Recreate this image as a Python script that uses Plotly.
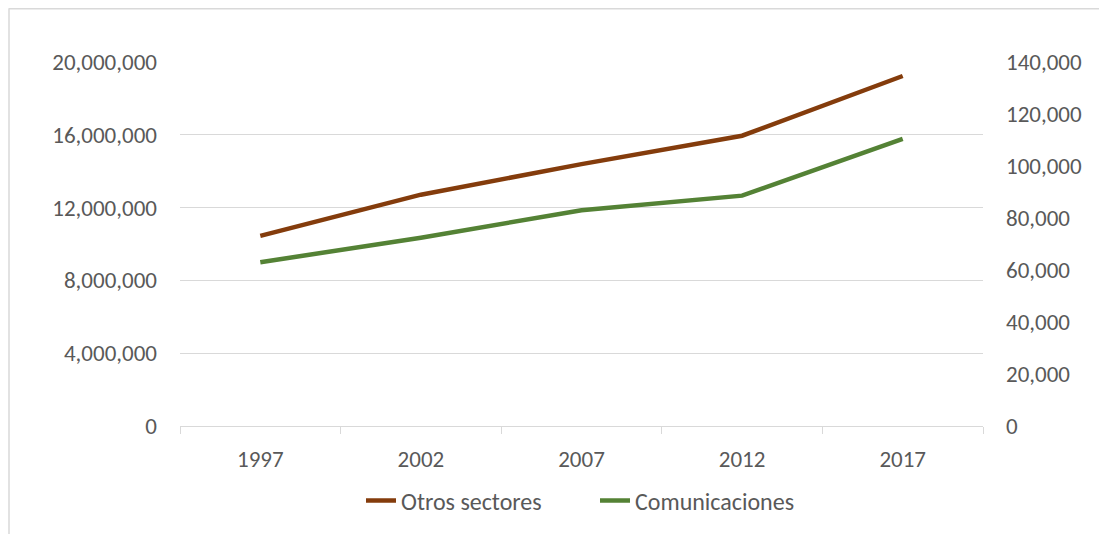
import plotly.graph_objects as go

years = ["1997", "2002", "2007", "2012", "2017"]
otros_sectores = [10450000, 12710000, 14390000, 15950000, 19230000]
comunicaciones = [63000, 72400, 83000, 88600, 110400]

left_ticks = [0, 4000000, 8000000, 12000000, 16000000, 20000000]
right_ticks = [0, 20000, 40000, 60000, 80000, 100000, 120000, 140000]

FONT = "Calibri, Carlito, Liberation Sans, Arial, sans-serif"
TXT = "#595959"
GRID = "#d9d9d9"
FS = 23

fig = go.Figure()
fig.add_trace(go.Scatter(x=years, y=otros_sectores, name="Otros sectores",
                         mode="lines", line=dict(color="#843C0C", width=4.5),
                         yaxis="y"))
fig.add_trace(go.Scatter(x=years, y=comunicaciones, name="Comunicaciones",
                         mode="lines", line=dict(color="#548235", width=4.5),
                         yaxis="y2"))

OFF = 8  # page body margin
W, H = 1107 - OFF, 534 - OFF
L, R, T, B = 180 - OFF, 983 - OFF, 62 - OFF, 427 - OFF
pw, ph = R - L, B - T

def px(x):
    return (x - OFF - L) / pw

def py(y):
    return (B - (y - OFF)) / ph

fig.update_layout(
    width=W, height=H,
    margin=dict(l=L, r=W - R, t=T, b=H - B, pad=0),
    paper_bgcolor="white", plot_bgcolor="white",
    font=dict(family=FONT, size=FS, color=TXT),
    showlegend=True,
    legend=dict(orientation="h", x=px(361), xanchor="left",
                y=py(501), yanchor="middle", font=dict(size=FS + 1, color=TXT),
                entrywidth=189, bgcolor="rgba(0,0,0,0)"),
    xaxis=dict(type="category", range=[-0.5, 4.5], tickson="boundaries",
               ticks="outside", ticklen=7, tickcolor=GRID, tickwidth=1,
               showline=True, linecolor=GRID, linewidth=1,
               showgrid=False, zeroline=False, ticklabelstandoff=12,
               tickfont=dict(size=FS, color=TXT)),
    yaxis=dict(range=[0, 20000000], tickvals=left_ticks, tickformat=",",
               showgrid=True, gridcolor=GRID, gridwidth=1, zeroline=False,
               showline=False, ticks="", ticklabelstandoff=22,
               tickfont=dict(size=FS, color=TXT)),
    yaxis2=dict(range=[0, 140000], tickvals=right_ticks, tickformat=",",
                overlaying="y", side="right", showgrid=False, zeroline=False,
                showline=False, ticks="", ticklabelstandoff=22,
                tickfont=dict(size=FS, color=TXT)),
    shapes=[
        dict(type="line", xref="paper", yref="paper",
             x0=px(9), x1=px(9), y0=py(8), y1=py(H + 30),
             line=dict(color=GRID, width=1.5)),
        dict(type="line", xref="paper", yref="paper",
             x0=px(9), x1=px(W + 30), y0=py(8.5), y1=py(8.5),
             line=dict(color=GRID, width=1.5)),
    ],
)

fig.write_html("out.html")
